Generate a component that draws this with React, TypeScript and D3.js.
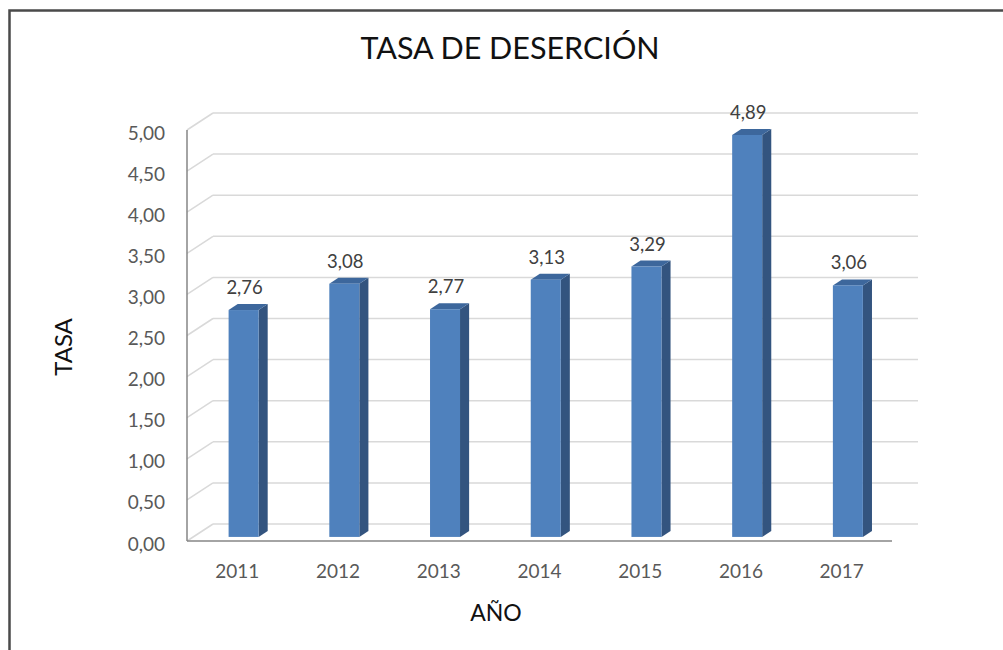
import React from 'react';
import * as d3 from 'd3';

const years = ['2011', '2012', '2013', '2014', '2015', '2016', '2017'];
const rates = [2.76, 3.08, 2.77, 3.13, 3.29, 4.89, 3.06];
const yTicks = [0, 0.5, 1, 1.5, 2, 2.5, 3, 3.5, 4, 4.5, 5];

const W = 1003;
const H = 650;
// front plane of the 3D box
const plot = { left: 187, right: 892, top: 130, bottom: 541 };
// depth vector (front -> back wall)
const depth = { dx: 26, dy: -17 };
const barFront = 0.24;
const barBack = 0.59;
const barWidth = 30;
const font = 'Lato, "Open Sans", sans-serif';

const fmt = (v: number) => v.toFixed(2).replace('.', ',');

const App: React.FC = () => {
  const y = d3.scaleLinear().domain([0, 5]).range([plot.bottom, plot.top]);
  const x = d3.scaleBand<string>().domain(years).range([plot.left, plot.right]);

  const fx = barFront * depth.dx;
  const fy = barFront * depth.dy;
  const sx = (barBack - barFront) * depth.dx;
  const sy = (barBack - barFront) * depth.dy;

  return (
    <svg width={W} height={H} style={{ position: 'absolute', left: 0, top: 0, fontFamily: font }}>
      <rect x={0} y={0} width={W} height={H} fill="#fff" />
      <rect x={9.5} y={10.5} width={W + 20} height={H + 20} fill="none" stroke="#4a4a4a" strokeWidth={2.5} />

      <text x={510} y={59} textAnchor="middle" fontSize={30.5} fill="#111">TASA DE DESERCIÓN</text>

      {/* back wall + side wall gridlines */}
      <g stroke="#d9d9d9" strokeWidth={1.5} fill="none">
        {yTicks.map(t => (
          <g key={t}>
            <line x1={plot.left + depth.dx} x2={plot.right + depth.dx} y1={y(t) + depth.dy} y2={y(t) + depth.dy} />
            <line x1={plot.left} x2={plot.left + depth.dx} y1={y(t)} y2={y(t) + depth.dy} />
          </g>
        ))}
      </g>

      {/* axis lines */}
      <line x1={plot.left} x2={plot.left} y1={plot.top} y2={plot.bottom} stroke="#868686" strokeWidth={1.5} />
      <line x1={plot.left} x2={plot.right} y1={plot.bottom} y2={plot.bottom} stroke="#868686" strokeWidth={1.5} />

      {/* y tick labels */}
      {yTicks.map(t => (
        <text key={t} x={165} y={y(t) + 2} textAnchor="end" dominantBaseline="central" fontSize={19} fill="#595959">{fmt(t)}</text>
      ))}

      {/* bars */}
      {years.map((yr, i) => {
        const v = rates[i];
        const cx = (x(yr) ?? 0) + x.bandwidth() / 2;
        const xl = cx - barWidth / 2 + fx;
        const xr = xl + barWidth;
        const yb = y(0) + fy;
        const yt = y(v) + fy;
        return (
          <g key={yr}>
            <polygon points={`${xr},${yt} ${xr + sx},${yt + sy} ${xr + sx},${yb + sy} ${xr},${yb}`} fill="#33547f" />
            <polygon points={`${xl},${yt} ${xr},${yt} ${xr + sx},${yt + sy} ${xl + sx},${yt + sy}`} fill="#3d679c" />
            <rect x={xl} y={yt} width={barWidth} height={yb - yt} fill="#4f81bd" />
            <text x={xl + barWidth / 2 + 1} y={yt + sy - 10} textAnchor="middle" fontSize={18.5} fill="#404040">{fmt(v)}</text>
          </g>
        );
      })}

      {/* x tick labels */}
      {years.map(yr => (
        <text key={yr} x={(x(yr) ?? 0) + x.bandwidth() / 2} y={570} textAnchor="middle" dominantBaseline="central" fontSize={19} fill="#595959">{yr}</text>
      ))}

      <text x={496} y={612} textAnchor="middle" dominantBaseline="central" fontSize={23} fill="#111">AÑO</text>
      <text transform="translate(62,347) rotate(-90)" textAnchor="middle" dominantBaseline="central" fontSize={24} fill="#111">TASA</text>
    </svg>
  );
};

export default App;
